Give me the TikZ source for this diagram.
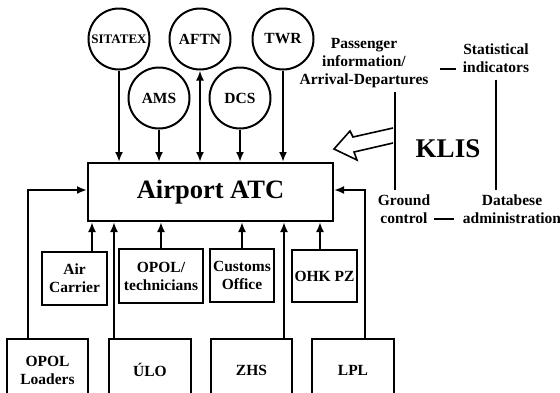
\documentclass[tikz,border=0pt]{standalone}
\usepackage{fontspec}
\setmainfont{Liberation Serif}
\usetikzlibrary{arrows.meta}
\begin{document}
\begin{tikzpicture}[x=1pt,y=-1pt,
 ln/.style={line width=2pt},
 circ/.style={draw,circle,line width=2pt,minimum size=61pt,inner sep=0pt,font=\fontsize{15.5}{18}\selectfont\bfseries},
 box/.style={draw,line width=2pt,inner sep=0pt,align=center,font=\fontsize{15.5}{18}\selectfont\bfseries},
 lbl/.style={inner sep=0pt,align=center,font=\fontsize{15.5}{18}\selectfont\bfseries},
 arr/.style={line width=2pt,-{Latex[length=10pt,width=8pt]}},
 arrtwo/.style={line width=2pt,{Latex[length=10pt,width=8pt]}-{Latex[length=10pt,width=8pt]}}]
\useasboundingbox (0,0) rectangle (560,392);
% main box
\node[box,minimum width=245pt,minimum height=58pt,font=\fontsize{26.5}{30}\selectfont\bfseries] (atc) at (210.5,192) {Airport ATC};
% circles
\node[circ,font=\fontsize{13}{15}\selectfont\bfseries] (sitatex) at (119,39) {SITATEX};
\node[circ] (aftn) at (200,39) {AFTN};
\node[circ] (twr) at (283,39) {TWR};
\node[circ] (ams) at (159,98) {AMS};
\node[circ] (dcs) at (240,98) {DCS};
\draw[arr] (sitatex) -- (sitatex |- atc.north);
\draw[arrtwo] (aftn) -- (aftn |- atc.north);
\draw[arr] (twr) -- (twr |- atc.north);
\draw[arr] (ams) -- (ams |- atc.north);
\draw[arr] (dcs) -- (dcs |- atc.north);
% row 1 boxes
\node[box,minimum width=65pt,minimum height=53pt] (air) at (74.5,278.5) {Air\\Carrier};
\node[box,minimum width=84pt,minimum height=54pt] (tech) at (161,276) {OPOL/\\technicians};
\node[box,minimum width=64pt,minimum height=53pt] (cust) at (242,275.5) {Customs\\Office};
\node[box,minimum width=65pt,minimum height=52pt] (ohk) at (324.5,276) {OHK PZ};
% row 2 boxes
\node[box,minimum width=81pt,minimum height=62pt] (load) at (47.5,370) {OPOL\\Loaders};
\node[box,minimum width=82pt,minimum height=62pt] (ulo) at (150,370) {ÚLO};
\node[box,minimum width=81pt,minimum height=62pt] (zhs) at (251.5,370) {ZHS};
\node[box,minimum width=82pt,minimum height=62pt] (lpl) at (353,370) {LPL};
% arrows up
\draw[arr] ([xshift=17.5pt]air.north) -- ([xshift=17.5pt]air.north |- atc.south);
\draw[arr] (tech) -- (tech |- atc.south);
\draw[arr] (cust) -- (cust |- atc.south);
\draw[arr] ([xshift=-4.5pt]ohk.north) -- ([xshift=-4.5pt]ohk.north |- atc.south);
\draw[arr] ([xshift=-36pt]ulo.north) -- ([xshift=-36pt]ulo.north |- atc.south);
\draw[arr] ([xshift=32.5pt]zhs.north) -- ([xshift=32.5pt]zhs.north |- atc.south);
\draw[arr] ([xshift=-19.5pt]load.north) |- ([yshift=2pt]atc.west);
\draw[arr] ([xshift=12pt]lpl.north) |- ([yshift=2pt]atc.east);
% KLIS side
\node[lbl] (pass) at (364,63) {Passenger\\information/\\Arrival-Departures};
\node[lbl] (stat) at (496,58) {Statistical\\indicators};
\node[lbl,font=\fontsize{27}{30}\selectfont\bfseries] (klis) at (448,149) {KLIS};
\node[lbl] (ground) at (404,209) {Ground\\control};
\node[lbl] (datab) at (512,209) {Databese\\administration};
\draw[ln] ([shift={(11pt,-6pt)}]pass.east) -- ++(16pt,0);
\draw[ln] ([shift={(4pt,-10pt)}]ground.east) -- ++(20pt,0);
\draw[ln] ([xshift=31pt,yshift=-4pt]pass.south) -- ([xshift=-9pt,yshift=4pt]ground.north);
\draw[ln] ([yshift=-7pt]stat.south) -- ([yshift=4pt]stat.south |- datab.north);
% hollow arrow
\draw[line width=1.6pt,fill=white,line join=miter] (393,128) -- (353,137) -- (350,131) -- (334,149) -- (357,160) -- (354,152) -- (393,143);
\end{tikzpicture}
\end{document}
